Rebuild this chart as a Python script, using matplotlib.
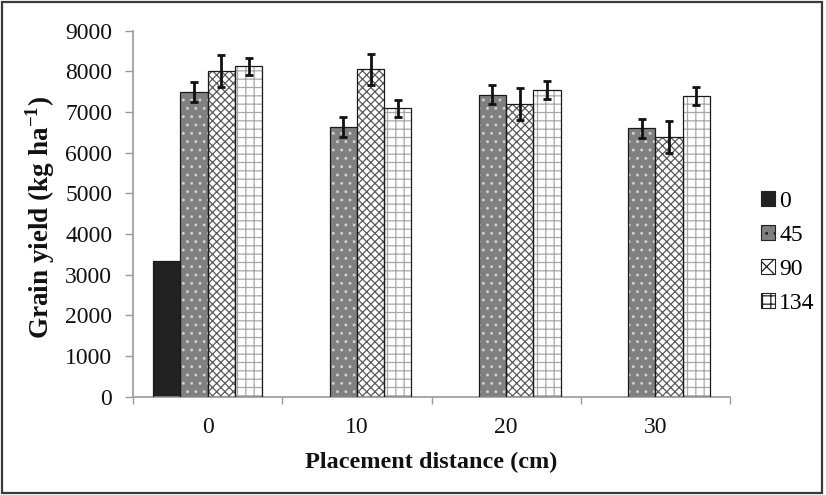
import numpy as np
import matplotlib
matplotlib.use("Agg")
import matplotlib.pyplot as plt
from matplotlib.patches import Rectangle, Patch

plt.rcParams["font.family"] = ["Liberation Serif", "DejaVu Serif"]
plt.rcParams["mathtext.fontset"] = "custom"
plt.rcParams["mathtext.rm"] = "Liberation Serif"
plt.rcParams["mathtext.bf"] = "Liberation Serif:bold"
plt.rcParams["hatch.linewidth"] = 0.9

# Placement distance categories (cm)
distances = ["0", "10", "20", "30"]
# N rates (kg ha-1) shown in the legend
rates = ["0", "45", "90", "134"]

# Grain yield means (kg ha-1); NaN = treatment not present
yield_0 = [3340, np.nan, np.nan, np.nan]
yield_45 = [7500, 6640, 7430, 6600]
yield_90 = [8010, 8050, 7190, 6390]
yield_134 = [8120, 7090, 7540, 7400]

# Error bar half-widths
err_0 = [0, 0, 0, 0]
err_45 = [245, 245, 240, 240]
err_90 = [395, 385, 390, 400]
err_134 = [215, 215, 215, 220]

series = [yield_0, yield_45, yield_90, yield_134]
errors = [err_0, err_45, err_90, err_134]
# (face colour, hatch, hatch colour)
styles = [
    ("#222222", "", "#222222"),
    ("#808080", "..", "#d0d0d0"),
    ("#ffffff", "xxxx", "#5a5a5a"),
    ("#ffffff", "++", "#a8a8a8"),
]

fig = plt.figure(figsize=(8.26, 4.95), dpi=100)
ax = fig.add_axes([133 / 826, 1 - 396.6 / 495, (730 - 133) / 826, (396.6 - 30.7) / 495])

x = np.arange(len(distances))
w = 0.1826
offsets = (np.arange(4) - 1.5) * w

for vals, errs, off, (fc, hatch, hc) in zip(series, errors, offsets, styles):
    vals = np.asarray(vals, dtype=float)
    errs = np.asarray(errs, dtype=float)
    m = np.isfinite(vals)
    xs = x[m] + off
    # hatched fill
    ax.bar(xs, vals[m], width=w, color=fc, hatch=hatch, edgecolor=hc,
           linewidth=0, zorder=2)
    # outline
    ax.bar(xs, vals[m], width=w, fill=False, edgecolor="#1a1a1a",
           linewidth=0.9, zorder=3)
    if np.any(errs[m] > 0):
        ax.errorbar(xs, vals[m], yerr=errs[m], fmt="none", ecolor="#111111",
                    elinewidth=2.0, capsize=3.2, capthick=2.0, zorder=4)

ax.set_xlim(-0.5, 3.5)
ax.set_ylim(0, 9000)
ax.set_yticks(np.arange(0, 9001, 1000))
ax.set_xticks(x)
ax.set_xticklabels(distances)
ax.set_xticks(np.arange(-0.5, 3.51, 1.0), minor=True)

for s in ["top", "right"]:
    ax.spines[s].set_visible(False)
for s in ["left", "bottom"]:
    ax.spines[s].set_color("#9a9a9a")
    ax.spines[s].set_linewidth(1.2)

ax.tick_params(axis="y", direction="out", length=6, width=1.0, color="#9a9a9a",
               labelsize=17, pad=9, labelcolor="#111111")
ax.tick_params(axis="x", which="major", length=0, labelsize=17, pad=15,
               labelcolor="#111111")
ax.tick_params(axis="x", which="minor", direction="out", length=5, width=1.0,
               color="#9a9a9a")

fig.text(431.5 / 826, 1 - 462 / 495, "Placement distance (cm)", ha="center",
         va="center", fontsize=17.5, fontweight="bold", color="#111111")
fig.text(40 / 826, 1 - 218 / 495, r"Grain yield (kg ha$^{\mathbf{-1}}$)",
         ha="center", va="center", rotation=90, fontsize=19.5,
         fontweight="bold", color="#111111")

handles = [Patch(facecolor=fc, hatch=("xx" if h == "xxxx" else h),
                 edgecolor="#222222", linewidth=0.8)
           for fc, h, hc in styles]
leg = fig.legend(handles, rates, loc="center left",
                 bbox_to_anchor=(761 / 826, 1 - 252.5 / 495),
                 frameon=False, fontsize=17, handlelength=0.58,
                 handleheight=0.58, handletextpad=0.2, labelspacing=0.55,
                 borderpad=0, borderaxespad=0)

# outer frame around the whole figure
fig.patches.append(Rectangle((0.003, 0.004), 0.992, 0.991, fill=False,
                             edgecolor="#3a3a3a", linewidth=1.6,
                             transform=fig.transFigure, figure=fig))

fig.savefig("out.png", dpi=100)
